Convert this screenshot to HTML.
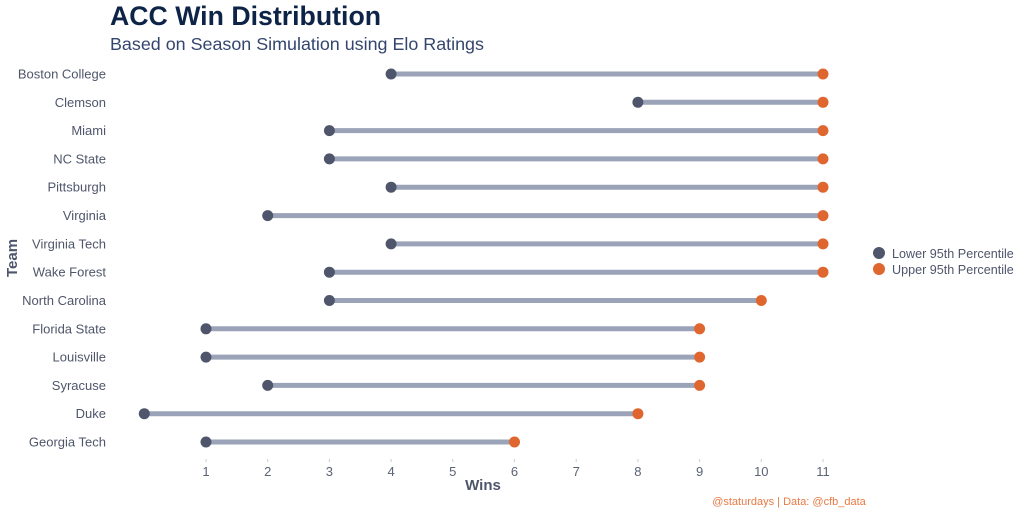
<!DOCTYPE html>
<html><head><meta charset="utf-8"><style>
html,body{margin:0;padding:0;background:#fff;width:1024px;height:512px;overflow:hidden}
svg text{font-family:"Liberation Sans",Arial,sans-serif}
</style></head><body>
<svg width="1024" height="512" viewBox="0 0 1024 512" xmlns="http://www.w3.org/2000/svg">
<text x="110" y="25" font-size="26.7" font-weight="bold" fill="#0e2447">ACC Win Distribution</text>
<text x="110" y="50" font-size="17.9" fill="#34466e">Based on Season Simulation using Elo Ratings</text>

<g stroke="#ccc">
<line x1="206" x2="206" y1="459" y2="462"/><line x1="267.7" x2="267.7" y1="459" y2="462"/><line x1="329.4" x2="329.4" y1="459" y2="462"/><line x1="391.1" x2="391.1" y1="459" y2="462"/><line x1="452.8" x2="452.8" y1="459" y2="462"/><line x1="514.5" x2="514.5" y1="459" y2="462"/><line x1="576.2" x2="576.2" y1="459" y2="462"/><line x1="637.9" x2="637.9" y1="459" y2="462"/><line x1="699.6" x2="699.6" y1="459" y2="462"/><line x1="761.3" x2="761.3" y1="459" y2="462"/><line x1="823" x2="823" y1="459" y2="462"/>
</g>
<g font-size="13" fill="#5a6275" text-anchor="middle">
<text x="206" y="476">1</text><text x="267.7" y="476">2</text><text x="329.4" y="476">3</text><text x="391.1" y="476">4</text><text x="452.8" y="476">5</text><text x="514.5" y="476">6</text><text x="576.2" y="476">7</text><text x="637.9" y="476">8</text><text x="699.6" y="476">9</text><text x="761.3" y="476">10</text><text x="823" y="476">11</text>
</g>

<g font-size="13" fill="#4f566b" text-anchor="end">
<text x="106" y="78.5">Boston College</text>
<text x="106" y="106.8">Clemson</text>
<text x="106" y="135.1">Miami</text>
<text x="106" y="163.4">NC State</text>
<text x="106" y="191.7">Pittsburgh</text>
<text x="106" y="220.1">Virginia</text>
<text x="106" y="248.4">Virginia Tech</text>
<text x="106" y="276.7">Wake Forest</text>
<text x="106" y="305">North Carolina</text>
<text x="106" y="333.3">Florida State</text>
<text x="106" y="361.6">Louisville</text>
<text x="106" y="389.9">Syracuse</text>
<text x="106" y="418.2">Duke</text>
<text x="106" y="446.5">Georgia Tech</text>
</g>

<g stroke="#9aa3b8" stroke-width="5">
<line x1="391.1" x2="823" y1="74" y2="74"/>
<line x1="637.9" x2="823" y1="102.3" y2="102.3"/>
<line x1="329.4" x2="823" y1="130.6" y2="130.6"/>
<line x1="329.4" x2="823" y1="158.9" y2="158.9"/>
<line x1="391.1" x2="823" y1="187.2" y2="187.2"/>
<line x1="267.7" x2="823" y1="215.6" y2="215.6"/>
<line x1="391.1" x2="823" y1="243.9" y2="243.9"/>
<line x1="329.4" x2="823" y1="272.2" y2="272.2"/>
<line x1="329.4" x2="761.3" y1="300.5" y2="300.5"/>
<line x1="206" x2="699.6" y1="328.8" y2="328.8"/>
<line x1="206" x2="699.6" y1="357.1" y2="357.1"/>
<line x1="267.7" x2="699.6" y1="385.4" y2="385.4"/>
<line x1="144.3" x2="637.9" y1="413.7" y2="413.7"/>
<line x1="206" x2="514.5" y1="442" y2="442"/>
</g>
<g fill="#4f566b">
<circle cx="391.1" cy="74" r="5.5"/>
<circle cx="637.9" cy="102.3" r="5.5"/>
<circle cx="329.4" cy="130.6" r="5.5"/>
<circle cx="329.4" cy="158.9" r="5.5"/>
<circle cx="391.1" cy="187.2" r="5.5"/>
<circle cx="267.7" cy="215.6" r="5.5"/>
<circle cx="391.1" cy="243.9" r="5.5"/>
<circle cx="329.4" cy="272.2" r="5.5"/>
<circle cx="329.4" cy="300.5" r="5.5"/>
<circle cx="206" cy="328.8" r="5.5"/>
<circle cx="206" cy="357.1" r="5.5"/>
<circle cx="267.7" cy="385.4" r="5.5"/>
<circle cx="144.3" cy="413.7" r="5.5"/>
<circle cx="206" cy="442" r="5.5"/>
</g>
<g fill="#e0662f">
<circle cx="823" cy="74" r="5.5"/>
<circle cx="823" cy="102.3" r="5.5"/>
<circle cx="823" cy="130.6" r="5.5"/>
<circle cx="823" cy="158.9" r="5.5"/>
<circle cx="823" cy="187.2" r="5.5"/>
<circle cx="823" cy="215.6" r="5.5"/>
<circle cx="823" cy="243.9" r="5.5"/>
<circle cx="823" cy="272.2" r="5.5"/>
<circle cx="761.3" cy="300.5" r="5.5"/>
<circle cx="699.6" cy="328.8" r="5.5"/>
<circle cx="699.6" cy="357.1" r="5.5"/>
<circle cx="699.6" cy="385.4" r="5.5"/>
<circle cx="637.9" cy="413.7" r="5.5"/>
<circle cx="514.5" cy="442" r="5.5"/>
</g>

<text transform="translate(17,258) rotate(-90)" text-anchor="middle" font-size="15" font-weight="bold" fill="#4f566b">Team</text>
<text x="483" y="490" text-anchor="middle" font-size="15" font-weight="bold" fill="#4f566b">Wins</text>
<circle cx="879" cy="253" r="6" fill="#4f566b"/>
<text x="892" y="258" font-size="12.6" fill="#4f566b">Lower 95th Percentile</text>
<circle cx="879" cy="269" r="6" fill="#e0662f"/>
<text x="892" y="274" font-size="12.6" fill="#4f566b">Upper 95th Percentile</text>
<text x="789" y="505" text-anchor="middle" font-size="11" fill="#e87a45">@staturdays | Data: @cfb_data</text>
</svg>
</body></html>
